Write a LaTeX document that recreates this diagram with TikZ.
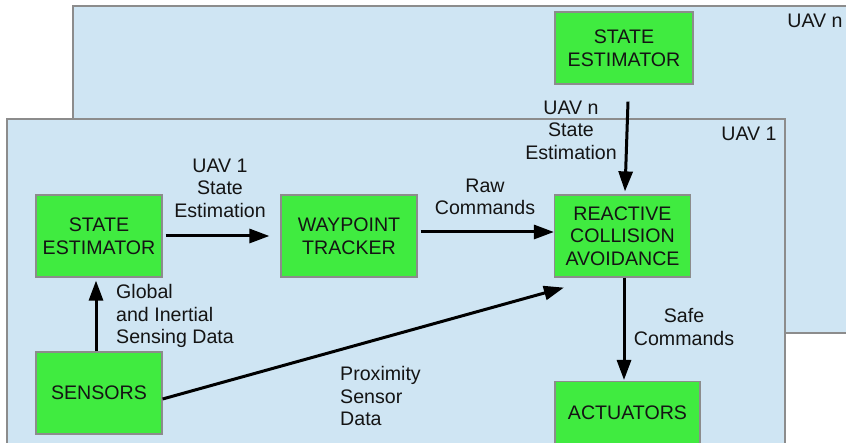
\documentclass[tikz,border=0pt]{standalone}
\usepackage{fontspec}
\setmainfont{Liberation Sans}
\usetikzlibrary{arrows.meta}
\definecolor{panelfill}{RGB}{207,229,243}
\definecolor{panelline}{RGB}{140,140,140}
\definecolor{blockfill}{RGB}{64,235,64}
\definecolor{blockline}{RGB}{140,140,140}
\definecolor{inktext}{RGB}{20,20,20}
\tikzset{
  panel/.style={fill=panelfill, draw=panelline, line width=1.5pt},
  block/.style={rectangle, fill=blockfill, draw=blockline, line width=1.2pt,
    align=center, text=inktext, inner sep=0pt},
  lbl/.style={inner sep=0pt, text=inktext},
  flow/.style={line width=3pt, -{Triangle[length=20pt,width=14pt]}},
}
\begin{document}
\begin{tikzpicture}[x=1pt, y=-1pt,
  every node/.append style={font=\fontsize{19.6}{22.6}\selectfont}]
\useasboundingbox (0,0) rectangle (846,443);
\clip (0,0) rectangle (846,443);

% back panel: UAV n
\draw[panel] (73,6) rectangle (870,333);
\node[lbl] (tagn) at (815,21) {UAV n};
\node[block, minimum width=138pt, minimum height=72pt] (sen) at (624,48) {STATE\\ESTIMATOR};

% front panel: UAV 1
\draw[panel] (7,119) rectangle (785,470);
\node[lbl] (tag1) at (749,134) {UAV 1};

% blocks of UAV 1
\node[block, minimum width=126pt, minimum height=82pt] (se1) at (99,236) {STATE\\ESTIMATOR};
\node[block, minimum width=126pt, minimum height=82pt] (sens) at (99,393) {SENSORS};
\node[block, minimum width=136pt, minimum height=82pt] (wpt) at (349,236) {WAYPOINT\\TRACKER};
\node[block, minimum width=136pt, minimum height=82pt] (rca) at (622.5,236) {REACTIVE\\COLLISION\\AVOIDANCE};
\node[block, minimum width=145pt, minimum height=80pt, anchor=north,
  label={[lbl, yshift=9pt]center:ACTUATORS}] (act) at (627.5,381) {};

% connectors
\draw[flow] ([yshift=-17pt, xshift=4pt]sen.south) -- ([xshift=2.5pt, yshift=3pt]rca.north);
\draw[flow, shorten <=3pt, shorten >=11pt] (se1.east) -- (wpt.west);
\draw[flow, shorten <=3pt] ([yshift=4pt]wpt.east) -- ([yshift=4pt]rca.west);
\draw[flow, shorten >=3pt] ([xshift=-3pt]sens.north) -- ([xshift=-3pt]se1.south);
\draw[flow] ([yshift=-6pt]sens.east) -- ([xshift=10pt, yshift=-10pt]rca.south west);
\draw[flow, shorten >=1pt] ([xshift=1.5pt]rca.south) -- ([xshift=-3.5pt]act.north);

% connector labels
\node[lbl, align=center] (l1) at (220,188) {UAV 1\\State\\Estimation};
\node[lbl, align=center] (l2) at (485,197) {Raw\\Commands};
\node[lbl, align=center] (l3) at (571,130) {UAV n\\State\\Estimation};
\node[lbl, align=left, anchor=west] (l4) at (116,316) {Global\\and Inertial\\Sensing Data};
\node[lbl, align=left, anchor=west] (l5) at (340,396) {Proximity\\Sensor\\Data};
\node[lbl, align=center] (l6) at (684,327) {Safe\\Commands};
\end{tikzpicture}
\end{document}
